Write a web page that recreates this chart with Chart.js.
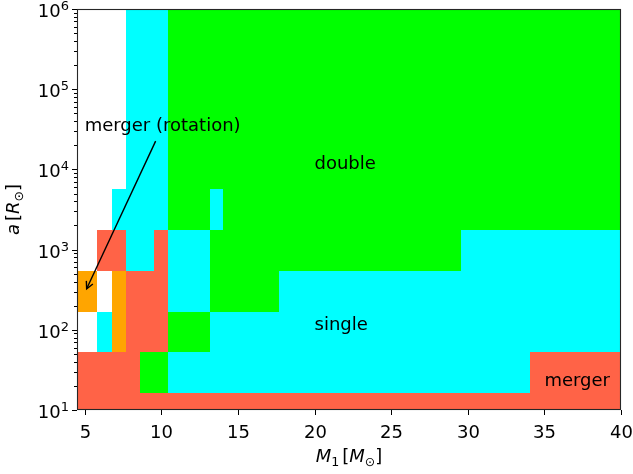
<!DOCTYPE html>
<html>
<head>
<meta charset="utf-8">
<script src="https://cdn.jsdelivr.net/npm/chart.js@4.4.1/dist/chart.umd.min.js"></script>
<style>
  html, body { margin: 0; padding: 0; background: #fff; }
  #wrap { width: 633px; height: 474px; }
</style>
</head>
<body>
<div id="wrap"><canvas id="outcomeChart" width="633" height="474"></canvas></div>
<script>
// Primary mass bin edges (Msun)
const m1Edges = [4.5, 5.83, 6.76, 7.67, 8.59, 9.52, 10.41, 13.15, 14.04, 17.71, 29.58, 34.06, 40];
// Separation bin edges (Rsun)
const aEdges = [10, 16.2, 52.5, 166, 537, 1740, 5620, 1e6];
// Outcome per cell, one string per separation row, lowest row first
// w = none, c = single, g = double, r = merger, o = merger (rotation)
const outcomeRows = [
  'rrrrrrrrrrrr',
  'rrrrggcccccr',
  'wcorrrgccccc',
  'oworrrcggccc',
  'wrrccrcgggcc',
  'wwccccgcgggg',
  'wwwcccgggggg'
];
const outcomeColors = { w: '#ffffff', c: '#00ffff', g: '#00ff00', r: '#ff6347', o: '#ffa500' };

const xTicks = [5, 10, 15, 20, 25, 30, 35, 40];
const yTickExps = [1, 2, 3, 4, 5, 6];

const labelTexts = ['double', 'single', 'merger'];
const labelX = [20, 20, 35];
const labelY = [1e4, 100, 20];

const noteText = 'merger (rotation)';
const noteXY = [5, 3e4];
const notePoint = [5.13, 325];

const FONT = '"DejaVu Sans", sans-serif';
const FS = 18;

// pcolormesh-like grid of outcomes
const outcomeGrid = {
  id: 'outcomeGrid',
  beforeDatasetsDraw(chart) {
    const { ctx, chartArea: area, scales: { x, y } } = chart;
    ctx.save();
    ctx.beginPath();
    ctx.rect(area.left, area.top, area.right - area.left, area.bottom - area.top);
    ctx.clip();
    outcomeRows.forEach((row, i) => {
      const y0 = Math.round(y.getPixelForValue(aEdges[i]));
      const y1 = Math.round(y.getPixelForValue(aEdges[i + 1]));
      for (let j = 0; j < row.length; j++) {
        const x0 = Math.round(x.getPixelForValue(m1Edges[j]));
        const x1 = Math.round(x.getPixelForValue(m1Edges[j + 1]));
        ctx.fillStyle = outcomeColors[row[j]];
        ctx.fillRect(x0, y1, x1 - x0, y0 - y1);
      }
    });
    ctx.restore();
  }
};

// draws a run of text pieces, some italic / subscript, like mathtext
function mathWidth(ctx, parts, size) {
  let w = 0;
  parts.forEach(p => {
    const s = p.sub ? size * 0.7 : size;
    ctx.font = (p.it ? 'italic ' : '') + s + 'px ' + FONT;
    w += ctx.measureText(p.t).width + (p.gap || 0);
  });
  return w;
}
function drawMath(ctx, parts, x, y, size) {
  let cx = x;
  parts.forEach(p => {
    const s = p.sub ? size * 0.7 : size;
    ctx.font = (p.it ? 'italic ' : '') + s + 'px ' + FONT;
    ctx.fillText(p.t, cx, p.sub ? y + size * 0.22 : y);
    cx += ctx.measureText(p.t).width + (p.gap || 0);
  });
}

const axesFrame = {
  id: 'axesFrame',
  afterDraw(chart) {
    const { ctx, chartArea: area, scales: { x, y } } = chart;
    ctx.save();
    ctx.strokeStyle = '#000';
    ctx.fillStyle = '#000';
    ctx.lineWidth = 1;

    // region labels
    ctx.font = FS + 'px ' + FONT;
    ctx.textAlign = 'left';
    ctx.textBaseline = 'alphabetic';
    labelTexts.forEach((t, i) => {
      ctx.fillText(t, x.getPixelForValue(labelX[i]), y.getPixelForValue(labelY[i]));
    });

    // annotation with arrow
    const tx = x.getPixelForValue(noteXY[0]);
    const ty = y.getPixelForValue(noteXY[1]);
    ctx.fillText(noteText, tx, ty);
    const tw = ctx.measureText(noteText).width;
    const cxT = tx + tw / 2, cyT = ty - 5;
    const hx = x.getPixelForValue(notePoint[0]);
    const hy = y.getPixelForValue(notePoint[1]);
    const ang = Math.atan2(hy - cyT, hx - cxT);
    // leave the text box, then a small gap
    const startY = ty + 10;
    const t0 = (startY - cyT) / (hy - cyT);
    const sx = cxT + (hx - cxT) * t0, sy = startY;
    ctx.lineWidth = 1.4;
    ctx.beginPath();
    ctx.moveTo(sx, sy);
    ctx.lineTo(hx, hy);
    ctx.stroke();
    const hl = 7, hw = 3.6;
    ctx.beginPath();
    ctx.moveTo(hx - hl * Math.cos(ang) + hw * Math.sin(ang), hy - hl * Math.sin(ang) - hw * Math.cos(ang));
    ctx.lineTo(hx, hy);
    ctx.lineTo(hx - hl * Math.cos(ang) - hw * Math.sin(ang), hy - hl * Math.sin(ang) + hw * Math.cos(ang));
    ctx.stroke();

    // frame
    ctx.lineWidth = 1.1;
    ctx.strokeStyle = '#262626';
    ctx.strokeRect(Math.round(area.left) + 0.5, Math.round(area.top) + 0.5,
      Math.round(area.right - area.left) - 1, Math.round(area.bottom - area.top) - 1);

    // x ticks and labels
    ctx.strokeStyle = '#000';
    ctx.lineWidth = 1;
    ctx.font = FS + 'px ' + FONT;
    ctx.textAlign = 'center';
    xTicks.forEach(v => {
      const px = Math.round(x.getPixelForValue(v)) + 0.5;
      ctx.beginPath();
      ctx.moveTo(px, area.bottom);
      ctx.lineTo(px, area.bottom + 5);
      ctx.stroke();
      ctx.fillText(String(v), px, area.bottom + 28);
    });

    // y ticks (log, with minors) and 10^n labels
    const es = Math.round(FS * 0.7);
    yTickExps.forEach(e => {
      const py = Math.round(y.getPixelForValue(Math.pow(10, e))) + 0.5;
      ctx.beginPath();
      ctx.moveTo(area.left, py);
      ctx.lineTo(area.left - 5, py);
      ctx.stroke();
      if (e < 6) {
        for (let k = 2; k <= 9; k++) {
          const pm = Math.round(y.getPixelForValue(k * Math.pow(10, e))) + 0.5;
          ctx.beginPath();
          ctx.moveTo(area.left, pm);
          ctx.lineTo(area.left - 3, pm);
          ctx.stroke();
        }
      }
      ctx.textAlign = 'left';
      ctx.font = es + 'px ' + FONT;
      const ew = ctx.measureText(String(e)).width;
      ctx.font = FS + 'px ' + FONT;
      const bw = ctx.measureText('10').width;
      const right = area.left - 8;
      ctx.fillText('10', right - ew - bw, py + 7.5);
      ctx.font = es + 'px ' + FONT;
      ctx.fillText(String(e), right - ew, py);
    });

    // axis titles
    ctx.textAlign = 'left';
    const xParts = [
      { t: 'M', it: true }, { t: '1', sub: true, gap: 3 },
      { t: '[' }, { t: 'M', it: true }, { t: '\u2299', sub: true }, { t: ']' }
    ];
    const xw = mathWidth(ctx, xParts, FS);
    drawMath(ctx, xParts, (area.left + area.right) / 2 - xw / 2, 462, FS);

    const yParts = [
      { t: 'a', it: true, gap: 3 },
      { t: '[' }, { t: 'R', it: true }, { t: '\u2299', sub: true }, { t: ']' }
    ];
    const yw = mathWidth(ctx, yParts, FS);
    ctx.translate(19, (area.top + area.bottom) / 2);
    ctx.rotate(-Math.PI / 2);
    drawMath(ctx, yParts, -yw / 2, 0, FS);

    ctx.restore();
  }
};

new Chart(document.getElementById('outcomeChart'), {
  type: 'scatter',
  data: { datasets: [] },
  options: {
    responsive: false,
    animation: false,
    devicePixelRatio: 1,
    layout: { padding: { left: 77, right: 12, top: 9, bottom: 64 } },
    plugins: {
      legend: { display: false },
      tooltip: { enabled: false }
    },
    scales: {
      x: { type: 'linear', min: 4.5, max: 40, display: false },
      y: { type: 'logarithmic', min: 10, max: 1e6, display: false }
    }
  },
  plugins: [outcomeGrid, axesFrame]
});
</script>
</body>
</html>
